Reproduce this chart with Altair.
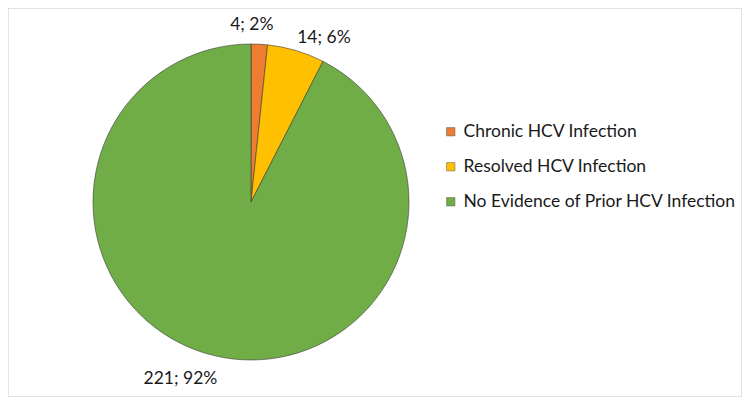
import altair as alt
import pandas as pd

categories = ["Chronic HCV Infection", "Resolved HCV Infection", "No Evidence of Prior HCV Infection"]
values = [4, 14, 221]
labels = ["4; 2%", "14; 6%", "221; 92%"]
colors = ["#ED7D31", "#FFC000", "#70AD47"]

df = pd.DataFrame({"category": categories, "value": values, "label": labels,
                   "order": list(range(len(categories)))})

FONT = "Lato"
FS = 17.5
CX, CY = 243, 194

base = alt.Chart(df).transform_window(
    cum="sum(value)", sort=[alt.SortField("order")], frame=[None, 0]
).transform_joinaggregate(
    total="sum(value)"
).transform_calculate(
    start="(datum.cum - datum.value) / datum.total",
    end="datum.cum / datum.total",
    mid="(datum.cum - datum.value / 2) / datum.total",
)

theta_scale = alt.Scale(domain=[0, 1])

pie = base.mark_arc(stroke="#3a3a3a", strokeWidth=0.6, outerRadius=158).encode(
    x=alt.value(CX), y=alt.value(CY),
    theta=alt.Theta("start:Q", scale=theta_scale),
    theta2="end:Q",
    color=alt.Color("category:N", sort=categories,
                    scale=alt.Scale(domain=categories, range=colors),
                    legend=alt.Legend(title=None, orient="none", legendX=434, legendY=115,
                                      symbolType="square", symbolSize=70,
                                      symbolStrokeColor="#555555", symbolStrokeWidth=0.5,
                                      labelFont=FONT, labelFontSize=FS, labelColor="#1a1a1a",
                                      rowPadding=16, labelOffset=4, labelLimit=400)),
)

def lab(cat, align, baseline, radius, dx=0):
    return base.transform_filter(alt.datum.category == cat).mark_text(
        font=FONT, fontSize=FS, color="#1a1a1a", align=align, baseline=baseline,
        radius=radius, dx=dx
    ).encode(
        x=alt.value(CX), y=alt.value(CY),
        theta=alt.Theta("mid:Q", scale=theta_scale),
        text="label:N",
    )

chart = alt.layer(
    pie,
    lab(categories[0], "center", "bottom", 168, -8),
    lab(categories[1], "left", "bottom", 162),
    lab(categories[2], "right", "middle", 182, 9),
).properties(
    width=734, height=389, padding=0, autosize="none"
).configure_view(stroke="#d9d9d9", strokeWidth=1.5)

chart.save("out.html", embed_options={"renderer": "svg", "actions": False})
